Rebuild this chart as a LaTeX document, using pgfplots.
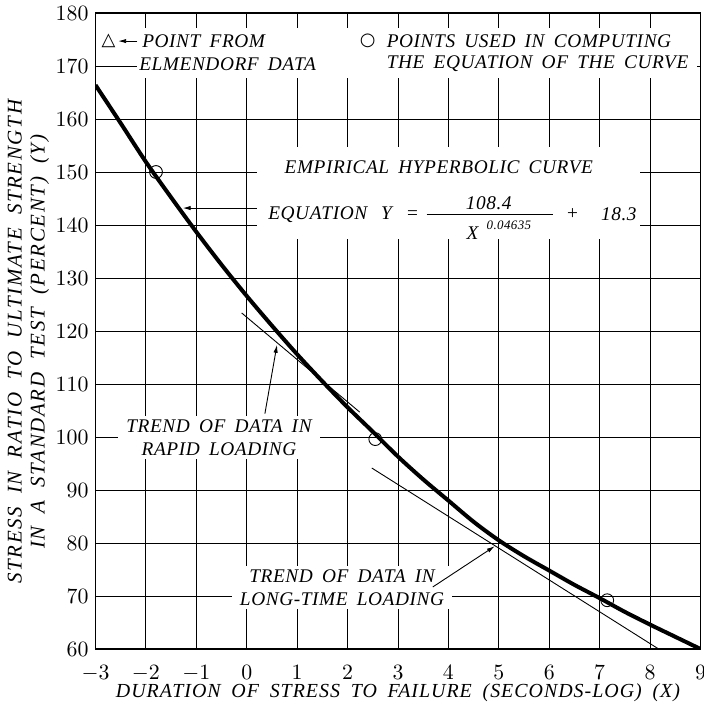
\documentclass[border=0pt]{standalone}
\usepackage{fontspec}
\setmainfont{Liberation Serif}
\newfontfamily\lf{Liberation Serif}[LetterSpace=5,WordSpace=1.8]
\newfontfamily\lfn{Liberation Serif}[LetterSpace=3,WordSpace=1.7]
\newfontfamily\lfw{Liberation Serif}[LetterSpace=8,WordSpace=1.9]
\newfontfamily\sym{DejaVu Sans}
\usepackage{pgfplots}
\pgfplotsset{compat=1.18}
\usetikzlibrary{arrows.meta}

\newcommand{\lab}{\lfn\itshape\fontsize{9.7}{11.5}\selectfont}

\begin{document}
\begin{tikzpicture}
\begin{axis}[
    name=ax,
    scale only axis,
    width=302.5bp, height=318bp,
    xmin=-3, xmax=9, ymin=60, ymax=180,
    xtick={-3,...,9}, ytick={60,70,...,180},
    grid=major,
    major grid style={black, line width=0.45bp},
    axis line style={black, line width=0.6bp},
    major tick length=0pt,
    tick label style={font=\fontsize{10.5}{10.5}\selectfont},
    xticklabel style={yshift=-4.5bp},
    xlabel={DURATION OF STRESS TO FAILURE (SECONDS-LOG) (X)},
    xlabel style={at={(axis description cs:0.5,-0.069)}, anchor=center,
        font=\lf\itshape\fontsize{10}{11.5}\selectfont},
    ylabel={STRESS IN RATIO TO ULTIMATE STRENGTH\\IN A STANDARD TEST (PERCENT) (Y)},
    ylabel style={at={(axis description cs:-0.1108,0.483)}, anchor=center, align=center,
        font=\lfw\itshape\fontsize{10.5}{11.5}\selectfont},
]

% white patches where the lettering breaks the grid
\fill[white] (axis cs:-2.93,177.2) rectangle (axis cs:8.93,171.6);
\fill[white] (axis cs:-2.18,171.7) rectangle (axis cs:8.93,167.7);
\fill[white] (axis cs:0.2,154.8) rectangle (axis cs:7.8,137.3);

% hyperbolic curve
\addplot[black, line width=2bp, smooth] coordinates {
(-3,166.4) (-2.5,159.2) (-2,151.9) (-1.5,145.2) (-1,138.7) (-0.5,132.5)
(0,126.6) (0.5,121.0) (1,115.6) (1.5,110.5) (2,105.6) (2.5,101.0)
(3,96.3) (3.5,92.0) (4,88.0) (4.5,84.0) (5,80.5) (5.5,77.5)
(6,74.8) (6.5,72.1) (7,69.6) (7.5,67.0) (8,64.6) (8.5,62.3) (9,60.0)};

% trend lines
\addplot[black, line width=0.45bp] coordinates {(-0.10,123.4) (2.24,104.7)};
\addplot[black, line width=0.45bp] coordinates {(2.48,94.15) (8.17,60)};

% points used in computing the equation
\addplot[only marks, mark=o, mark size=3.2bp, mark options={line width=0.45bp}]
    coordinates {(-1.8,150.0) (2.55,99.6) (7.15,69.2)};

% legends at top
\node[font=\sym\fontsize{9}{9}\selectfont] at (axis cs:-2.74,174.7) {△};
\draw[line width=0.45bp, -{Latex[length=4bp,width=2.2bp]}] (axis cs:-2.17,174.7) -- (axis cs:-2.55,174.7);
\node[anchor=west, font=\lab, inner sep=0pt] at (axis cs:-2.08,174.6) {POINT FROM};
\node[anchor=west, font=\lab, inner sep=0pt] at (axis cs:-2.14,170.3) {ELMENDORF DATA};
\node[font=\sym\fontsize{9}{9}\selectfont] at (axis cs:2.40,174.8) {○};
\node[anchor=west, font=\lab, inner sep=0pt] at (axis cs:2.77,174.7) {POINTS USED IN COMPUTING};
\node[anchor=west, font=\lab, inner sep=0pt] at (axis cs:2.77,170.4) {THE EQUATION OF THE CURVE};

% equation
\node[font=\lab] at (axis cs:3.81,150.9) {EMPIRICAL HYPERBOLIC CURVE};
\node[anchor=west, font=\lab, inner sep=0pt] at (axis cs:0.42,142.0) {EQUATION\hspace{7bp}Y\hspace{7bp}=};
\draw[line width=0.5bp] (axis cs:3.57,141.9) -- (axis cs:6.07,141.9);
\node[font=\lab] at (axis cs:4.80,144.1) {108.4};
\node[font=\lab] at (axis cs:4.48,138.5) {X};
\node[font=\lfn\itshape\fontsize{6.5}{7}\selectfont] at (axis cs:5.20,139.9) {0.04635};
\node[font=\lab] at (axis cs:6.46,142.0) {+};
\node[font=\lab] at (axis cs:7.38,142.0) {18.3};
\draw[line width=0.45bp, -{Latex[length=4bp,width=2.2bp]}] (axis cs:0.2,143.2) -- (axis cs:-1.27,143.2);

% trend labels
\node[font=\lab, fill=white, align=center, inner xsep=4bp, inner ysep=2bp] at (axis cs:-0.55,99.9)
    {TREND OF DATA IN\\RAPID LOADING};
\draw[line width=0.45bp, -{Latex[length=4bp,width=2.2bp]}] (axis cs:0.36,104.4) -- (axis cs:0.6,117.4);
\node[font=\lab, fill=white, align=center, inner xsep=4bp, inner ysep=2bp] at (axis cs:1.89,71.6)
    {TREND OF DATA IN\\LONG-TIME LOADING};
\draw[line width=0.45bp, -{Latex[length=4bp,width=2.2bp]}] (axis cs:3.69,71.7) -- (axis cs:4.92,79.4);

\end{axis}
\pgfresetboundingbox
\path[use as bounding box] ([shift={(-47.75bp,-28.5bp)}]ax.south west) rectangle ([shift={(1.5bp,6.5bp)}]ax.north east);
\end{tikzpicture}
\end{document}
